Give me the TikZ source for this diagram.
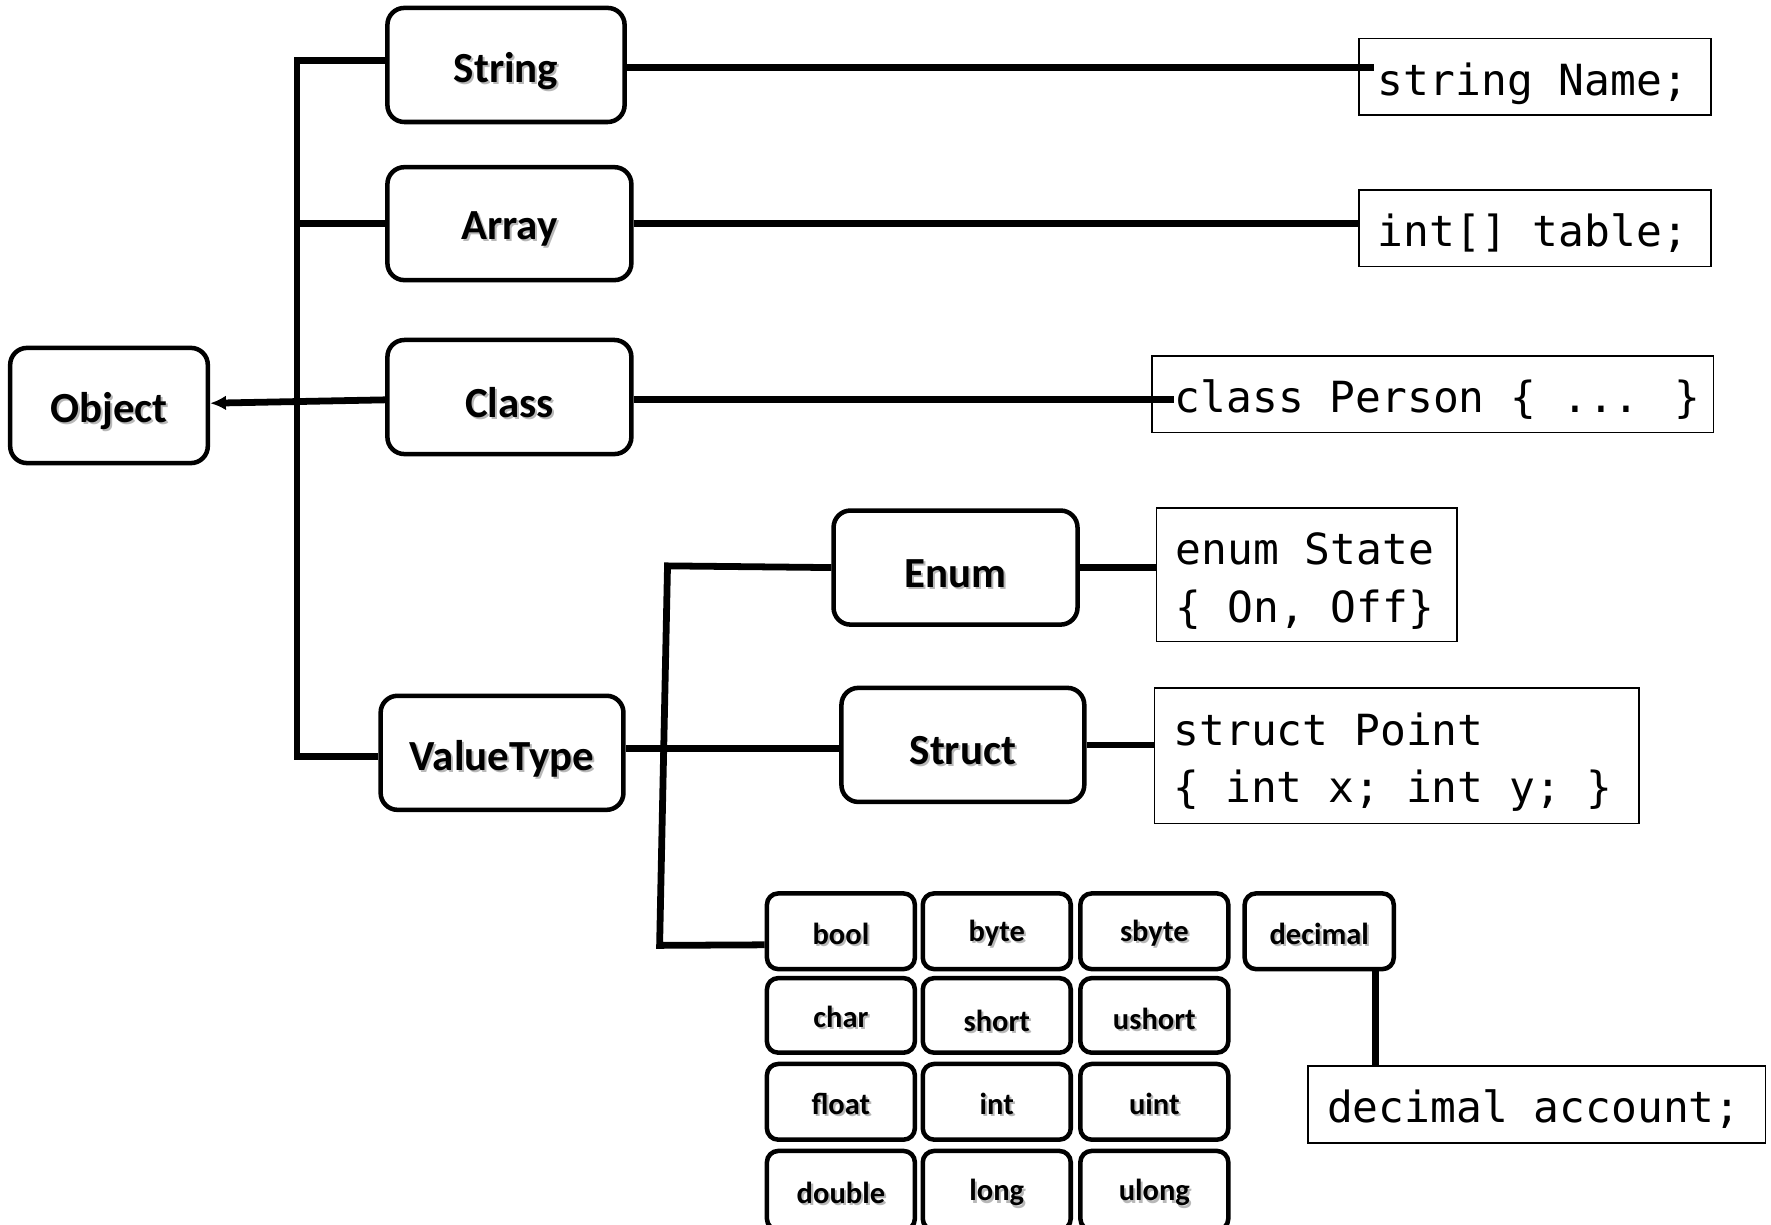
\documentclass[tikz,border=0pt]{standalone}
\usepackage{fontspec}
\setmainfont{Carlito}
\newfontfamily\codefont{DejaVu Sans Mono}
\usetikzlibrary{arrows.meta}

% bold label with a soft grey drop shadow, set a little below the centre
\newcommand\shd[2][3pt]{\raisebox{-#1}[\height][\depth]{%
  \rlap{\hspace{0.9pt}\raisebox{-0.9pt}{\textcolor{black!28}{#2}}}#2}}
% left-aligned code lines in a box of the given width
\newcommand\code[2]{\raisebox{-3pt}[\height][\depth]{%
  \makebox[#1][l]{\begin{tabular}{@{}l@{}}#2\end{tabular}}}}

\tikzset{
  tbox/.style={draw, line width=2pt, rounded corners=7.5pt, inner sep=0pt,
    font=\fontsize{19}{23}\selectfont\bfseries},
  sbox/.style={draw, line width=2pt, rounded corners=5pt, inner sep=0pt,
    minimum width=65.5pt, font=\fontsize{13.5}{16}\selectfont\bfseries},
  codebox/.style={draw, line width=0.7pt, inner xsep=8.5pt, inner ysep=0pt,
    font=\codefont\fontsize{19}{25.5}\selectfont},
  wire/.style={line width=3pt},
}

\begin{document}
\begin{tikzpicture}[x=0.5pt, y=-0.5pt]
  \clip (0,0) rectangle (1568,1084);
  \fill[white] (0,0) rectangle (1568,1084);

  % type hierarchy
  \node[tbox, minimum width=87.5pt, minimum height=51pt] (Object) at (96.5,359) {\shd{Object}};
  \node[tbox, minimum width=105pt, minimum height=50.5pt] (String) at (448,57.5) {\shd{String}};
  \node[tbox, minimum width=108pt, minimum height=50pt] (Array) at (451,198) {\shd{Array}};
  \node[tbox, minimum width=108pt, minimum height=50.5pt] (Class) at (451,351.5) {\shd{Class}};
  \node[tbox, minimum width=107.5pt, minimum height=50.5pt] (ValueType) at (444.5,666.5) {\shd{ValueType}};
  \node[tbox, minimum width=108pt, minimum height=50.5pt] (Enum) at (846,502.5) {\shd{Enum}};
  \node[tbox, minimum width=107.5pt, minimum height=50.5pt] (Struct) at (852.5,659.5) {\shd{Struct}};

  % built-in value types
  \node[sbox, minimum height=33.5pt] (bool)    at (744.5,824.5) {\shd[1.5pt]{bool}};
  \node[sbox, minimum height=33.5pt] (byte)    at (882.5,824.5) {\shd[1.5pt]{byte}};
  \node[sbox, minimum height=33.5pt] (sbyte)   at (1022,824.5)  {\shd[1.5pt]{sbyte}};
  \node[sbox, minimum height=33.5pt, minimum width=66pt] (decimal) at (1168,824.5) {\shd[1.5pt]{decimal}};
  \node[sbox, minimum height=33pt] (char)    at (744.5,899)  {\shd[1pt]{char}};
  \node[sbox, minimum height=33pt] (short)   at (882.5,899)  {\shd[3pt]{short}};
  \node[sbox, minimum height=33pt] (ushort)  at (1022,899)   {\shd[2pt]{ushort}};
  \node[sbox, minimum height=33.5pt] (float)   at (744.5,975.5) {\shd[1.5pt]{float}};
  \node[sbox, minimum height=33.5pt] (int)     at (882.5,975.5) {\shd[1.5pt]{int}};
  \node[sbox, minimum height=33.5pt] (uint)    at (1022,975.5)  {\shd[1.5pt]{uint}};
  \node[sbox, minimum height=35pt] (double)  at (744.5,1054) {\shd[1.5pt]{double}};
  \node[sbox, minimum height=35pt] (long)    at (882.5,1054) {\shd[1.5pt]{long}};
  \node[sbox, minimum height=35pt] (ulong)   at (1022,1054)  {\shd[1.5pt]{ulong}};

  % C# declarations
  \node[codebox, minimum width=156pt, minimum height=34pt] (sname) at (1359,68) {\code{139pt}{string Name;}};
  \node[codebox, minimum width=156pt, minimum height=34pt] (atable) at (1359,202) {\code{139pt}{int[] table;}};
  \node[codebox, minimum width=248.5pt, minimum height=34pt, inner xsep=10pt] (cperson) at (1268.5,349) {\code{228.5pt}{class Person \{ ... \}}};
  \node[codebox, minimum width=133pt, minimum height=59pt] (ecode) at (1157,509) {\code{116pt}{enum State\\\{ On, Off\}}};
  \node[codebox, minimum width=214.5pt, minimum height=60pt] (scode) at (1236.5,669) {\code{197.5pt}{struct Point\\\{ int x; int y; \}}};
  \node[codebox, minimum width=202.5pt, minimum height=34pt] (dacc) at (1360.5,978) {\code{185.5pt}{decimal account;}};

  % junction points of the trunks
  \coordinate (t2) at (263,670);
  \coordinate (u1) at (591,501);
  \coordinate (u2) at (584,837);

  % connectors
  \draw[wire] ([yshift=2pt]String.west) -| (t2) -- (t2 -| ValueType.west);
  \draw[wire] (Array.west) -- (Array.west -| t2);
  \draw[wire, -{Latex[length=7pt,width=6.5pt]}] ([yshift=-1.25pt]Class.west) -- ([yshift=1pt]Object.east);
  \draw[wire] (Enum.west) -- (u1) -- (u2) -- ([yshift=-6pt]bool.west);
  \draw[wire] ([yshift=-1.5pt]ValueType.east |- Struct.west) -- ([yshift=-1.5pt]Struct.west);

  \draw[wire] ([yshift=-1pt]String.east) -- ([xshift=7pt,yshift=-1pt]String.east -| sname.west);
  \draw[wire] (Array.east) -- (Array.east -| atable.west);
  \draw[wire] ([yshift=-1pt]Class.east) -- ([xshift=10pt,yshift=-1pt]Class.east -| cperson.west);
  \draw[wire] (Enum.east) -- (Enum.east -| ecode.west);
  \draw[wire] (Struct.east) -- (Struct.east -| scode.west);
  \draw[wire] ([xshift=25pt]decimal.south) -- ([xshift=25pt]decimal.south |- dacc.north);
\end{tikzpicture}
\end{document}
